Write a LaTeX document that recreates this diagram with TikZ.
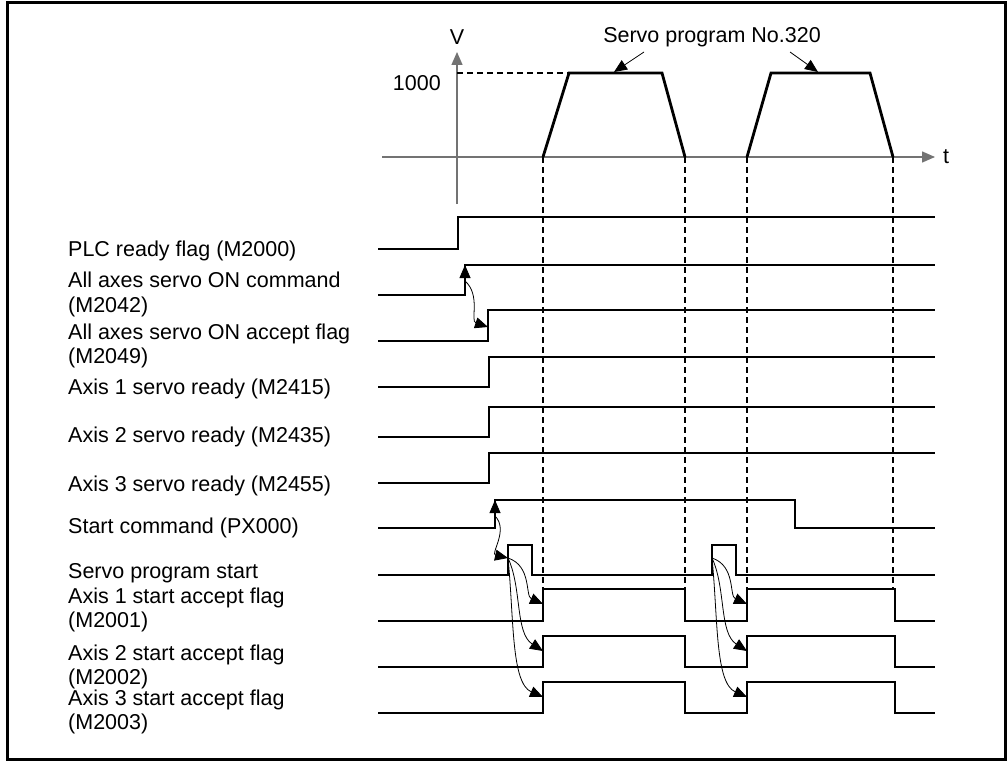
\documentclass[tikz,border=0pt]{standalone}
\usepackage{fontspec}
\setmainfont{Liberation Sans}
\usepackage{tikz}
\usetikzlibrary{arrows.meta}

\begin{document}
\begin{tikzpicture}[
    x=1pt, y=-1pt,
    font=\fontsize{21.5}{24.5}\selectfont,
    >={Triangle[length=13pt, width=11pt]},
    sig/.style={line width=2.8pt, line join=miter},
    axis/.style={line width=1.4pt, draw=black!55},
    guide/.style={line width=1.2pt, dash pattern=on 6pt off 4pt},
    cause/.style={line width=0.8pt},
    lbl/.style={anchor=west, align=left, inner sep=0pt}
  ]
    \useasboundingbox (0,0) rectangle (1008,762);
    \draw[line width=3pt] (7,3) rectangle (1005,759);

    % speed graph
    \draw[axis, ->] (457,204) -- (457,52);
    \draw[axis, ->] (382,157) -- (935,157);
    \node (vlab) at (457,37) {V};
    \node (tlab) at (946,157) {t};
    \node[anchor=east, inner sep=0pt] (spd) at (441,83) {1000};
    \draw[guide] (457,73) -- (569,73);
    \draw[sig] (543,157) -- (569,73) -- (662,73) -- (685,157);
    \draw[sig] (747,157) -- (771,73) -- (870,73) -- (893,157);
    \coordinate (top1) at (614,72);
    \coordinate (top2) at (818,72);
    \node (prog) at (712,37) {Servo program No.320};
    \draw[cause, ->] (644,52) -- (top1);
    \draw[cause, ->] (790,52) -- (top2);
    \foreach \xg in {543,685,747,893}
      \draw[guide] (\xg,157) -- (\xg,589);

    % signal names
    \node[lbl] (plc)  at (68,251) {PLC ready flag (M2000)};
    \node[lbl] (son)  at (68,294.5) {All axes servo ON command\\(M2042)};
    \node[lbl] (sacc) at (68,346) {All axes servo ON accept flag\\(M2049)};
    \node[lbl] (rdy1) at (68,389) {Axis 1 servo ready (M2415)};
    \node[lbl] (rdy2) at (68,437) {Axis 2 servo ready (M2435)};
    \node[lbl] (rdy3) at (68,486) {Axis 3 servo ready (M2455)};
    \node[lbl] (pxs)  at (68,528) {Start command (PX000)};
    \node[lbl] (sps)  at (68,573) {Servo program start};
    \node[lbl] (acc1) at (68,610) {Axis 1 start accept flag\\(M2001)};
    \node[lbl] (acc2) at (68,667) {Axis 2 start accept flag\\(M2002)};
    \node[lbl] (acc3) at (68,712) {Axis 3 start accept flag\\(M2003)};

    % waveforms
    \draw[sig] (378,249) -- (458,249) -- (458,217) -- (935,217);
    \draw[sig] (378,295) -- (465,295) -- (465,265) -- (935,265);
    \draw[sig] (378,341) -- (488,341) -- (488,310) -- (935,310);
    \draw[sig] (378,387) -- (489,387) -- (489,357) -- (935,357);
    \draw[sig] (378,437) -- (489,437) -- (489,407) -- (935,407);
    \draw[sig] (378,483) -- (489,483) -- (489,453) -- (935,453);
    \draw[sig] (378,528) -- (495,528) -- (495,500) -- (795,500) -- (795,528) -- (935,528);
    \draw[sig] (378,575) -- (508,575) -- (508,545) -- (532,545) -- (532,575)
      -- (712,575) -- (712,545) -- (736,545) -- (736,575) -- (935,575);
    \draw[sig] (378,621) -- (543,621) -- (543,589) -- (685,589) -- (685,621)
      -- (747,621) -- (747,589) -- (895,589) -- (895,621) -- (935,621);
    \draw[sig] (378,667) -- (543,667) -- (543,636) -- (685,636) -- (685,667)
      -- (747,667) -- (747,636) -- (895,636) -- (895,667) -- (935,667);
    \draw[sig] (378,713) -- (543,713) -- (543,682) -- (685,682) -- (685,713)
      -- (747,713) -- (747,682) -- (895,682) -- (895,713) -- (935,713);

    % edges that trigger
    \coordinate (sonup) at (465,265);
    \coordinate (saccup) at (488,327);
    \coordinate (pxup) at (495,500);
    \coordinate (spsup) at (508,558);
    \coordinate (spsup2) at (712,558);
    \coordinate (a1up) at (543,604);
    \coordinate (a2up) at (543,651);
    \coordinate (a3up) at (543,697);
    \coordinate (a1up2) at (747,604);
    \coordinate (a2up2) at (747,651);
    \coordinate (a3up2) at (747,697);

    \draw[cause, <->] (sonup) -- ++(0,16) .. controls +(16,14) and +(-18,-6) .. (saccup);
    \draw[cause, <->] (pxup) -- ++(0,16) .. controls +(14,14) and +(-18,-4) .. (spsup);
    \draw[cause, ->] (spsup) .. controls +(24,8) and +(-18,-8) .. (a1up);
    \draw[cause, ->] (spsup) .. controls +(14,30) and +(-28,-18) .. (a2up);
    \draw[cause, ->] (spsup) .. controls +(6,60) and +(-32,-14) .. (a3up);
    \draw[cause, ->] (spsup2) .. controls +(24,8) and +(-18,-8) .. (a1up2);
    \draw[cause, ->] (spsup2) .. controls +(14,30) and +(-28,-18) .. (a2up2);
    \draw[cause, ->] (spsup2) .. controls +(6,60) and +(-32,-14) .. (a3up2);
  \end{tikzpicture}
\end{document}
